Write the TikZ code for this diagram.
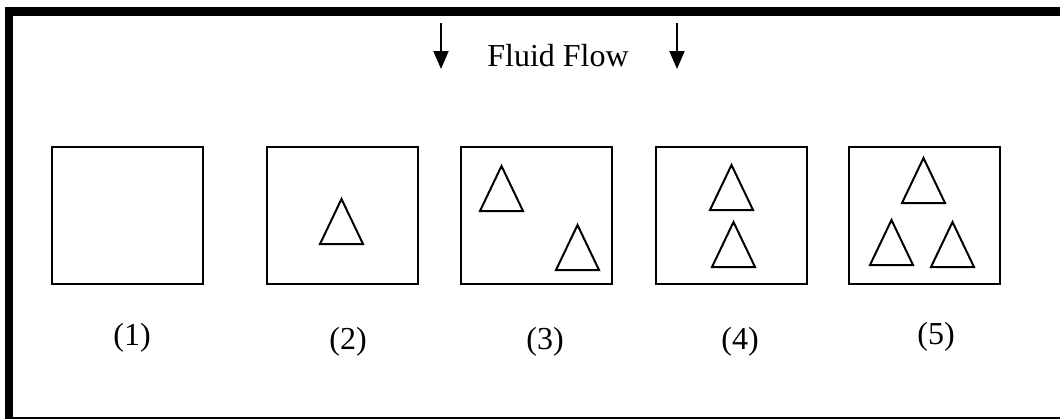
\documentclass[tikz,border=0pt]{standalone}
\usepackage{fontspec}
\setmainfont{Liberation Serif}
\usetikzlibrary{arrows.meta}
\begin{document}
\begin{tikzpicture}[x=0.75pt,y=-0.75pt,
  cell/.style={draw,line width=1.5pt,minimum width=113.25pt,minimum height=102.75pt,inner sep=0pt},
  caption/.style={font=\fontsize{24}{28}\selectfont,anchor=base,inner sep=0pt},
  flow/.style={line width=1.5pt,-{Triangle[length=13.5pt,width=11.25pt]}},
  tri/.pic={\draw[line width=1.5pt,line join=miter] (-21.5,0) -- (21.5,0) -- (0,-45) -- cycle;}]
\useasboundingbox (0,0) rectangle (1060,418);
\clip (0,0) rectangle (1060,418);
% outer frame
\draw[line width=6.4pt] (9,11.5) rectangle (1080,421);
% heading with the two flow arrows
\node[caption] (title) at (558,66) {Fluid Flow};
\coordinate (a1s) at (441,23); \coordinate (a1e) at (441,69);
\coordinate (a2s) at (677,23); \coordinate (a2e) at (677,69);
\draw[flow] (a1s) -- (a1e);
\draw[flow] (a2s) -- (a2e);
% the five cells
\node[cell] (c1) at (127.5,215.5) {};
\node[cell] (c2) at (342.5,215.5) {};
\node[cell] (c3) at (536.5,215.5) {};
\node[cell] (c4) at (731.5,215.5) {};
\node[cell] (c5) at (924.5,215.5) {};
% particles
\pic at (341.5,244) {tri};
\pic at (501.5,211) {tri};
\pic at (577.5,270) {tri};
\pic at (731.5,210) {tri};
\pic at (733.5,267) {tri};
\pic at (923.5,203) {tri};
\pic at (891.5,265) {tri};
\pic at (952.5,267) {tri};
% captions
\node[caption] (l1) at (132,345) {(1)};
\node[caption] (l2) at (348,349) {(2)};
\node[caption] (l3) at (545,349) {(3)};
\node[caption] (l4) at (740,349) {(4)};
\node[caption] (l5) at (936,344) {(5)};
\end{tikzpicture}
\end{document}
